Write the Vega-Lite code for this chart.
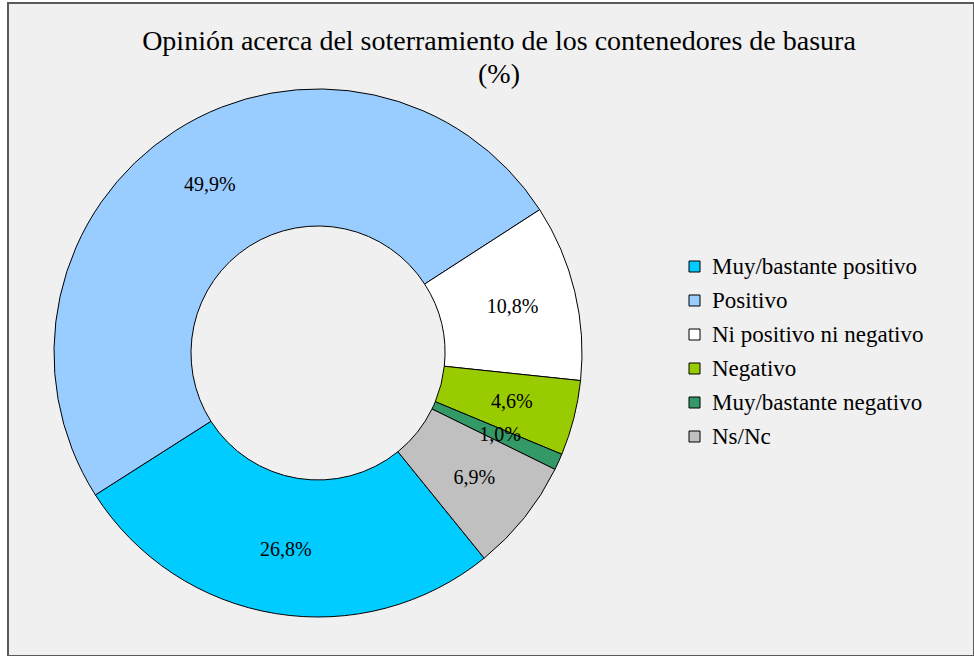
{
  "$schema": "https://vega.github.io/schema/vega-lite/v6.json",
  "width": 966,
  "height": 653,
  "autosize": {"type": "none"},
  "padding": {"left": 8, "top": 3, "right": 0, "bottom": 0},
  "background": "#FFFFFF",
  "view": {"fill": "#F0F0F0", "stroke": "#5A5A5A", "strokeWidth": 2},
  "config": {
    "font": "Liberation Serif"
  },
  "title": {
    "text": ["Opinión acerca del soterramiento de los contenedores de basura", "(%)"],
    "font": "Liberation Serif",
    "fontSize": 28,
    "fontWeight": "normal",
    "color": "#000000",
    "anchor": "middle",
    "lineHeight": 33,
    "offset": -86,
    "dx": 8
  },
  "data": {
    "values": [
      {"categoria": "Muy/bastante positivo", "valor": 26.8, "etiqueta": "26,8%", "orden": 1},
      {"categoria": "Positivo", "valor": 49.9, "etiqueta": "49,9%", "orden": 2},
      {"categoria": "Ni positivo ni negativo", "valor": 10.8, "etiqueta": "10,8%", "orden": 3},
      {"categoria": "Negativo", "valor": 4.6, "etiqueta": "4,6%", "orden": 4},
      {"categoria": "Muy/bastante negativo", "valor": 1.0, "etiqueta": "1,0%", "orden": 5},
      {"categoria": "Ns/Nc", "valor": 6.9, "etiqueta": "6,9%", "orden": 6}
    ]
  },
  "encoding": {
    "theta": {"field": "valor", "type": "quantitative", "stack": true, "scale": {"range": [2.461, 8.744]}},
    "order": {"field": "orden", "type": "quantitative"}
  },
  "layer": [
    {
      "mark": {"type": "arc", "x": 310, "y": 350, "outerRadius": 264, "innerRadius": 127, "stroke": "#000000", "strokeWidth": 1},
      "encoding": {
        "color": {
          "field": "categoria",
          "type": "nominal",
          "sort": ["Muy/bastante positivo", "Positivo", "Ni positivo ni negativo", "Negativo", "Muy/bastante negativo", "Ns/Nc"],
          "scale": {
            "domain": ["Muy/bastante positivo", "Positivo", "Ni positivo ni negativo", "Negativo", "Muy/bastante negativo", "Ns/Nc"],
            "range": ["#00CCFF", "#99CCFF", "#FFFFFF", "#99CC00", "#339966", "#C0C0C0"]
          },
          "legend": {
            "title": null,
            "orient": "none",
            "legendX": 675,
            "legendY": 252,
            "symbolType": "square",
            "symbolSize": 121,
            "symbolStrokeColor": "#000000",
            "symbolStrokeWidth": 1,
            "symbolOpacity": 1,
            "labelFont": "Liberation Serif",
            "labelFontSize": 23,
            "labelColor": "#000000",
            "labelLimit": 400,
            "rowPadding": 10,
            "labelOffset": 6
          }
        }
      }
    },
    {
      "mark": {"type": "text", "x": 310, "y": 350, "radius": 200, "font": "Liberation Serif", "fontSize": 20, "color": "#000000"},
      "encoding": {
        "text": {"field": "etiqueta", "type": "nominal"}
      }
    }
  ]
}
